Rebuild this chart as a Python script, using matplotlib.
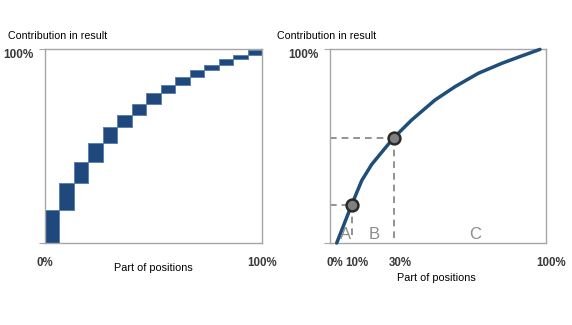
import matplotlib
matplotlib.use('Agg')
import matplotlib.pyplot as plt
import matplotlib.transforms as mtransforms
import numpy as np

plt.rcParams['font.family'] = ['Liberation Sans', 'DejaVu Sans']

# cumulative contribution after each of the 15 position groups (left chart)
cum_share = [0.0, 0.17, 0.308, 0.419, 0.514, 0.596, 0.661, 0.718, 0.771,
             0.814, 0.856, 0.892, 0.918, 0.948, 0.969, 0.995]

# ABC curve (right chart)
curve_x = [0.031, 0.100, 0.147, 0.193, 0.293, 0.378, 0.486, 0.579, 0.687,
           0.795, 0.887, 0.972]
curve_y = [0.0, 0.196, 0.322, 0.405, 0.540, 0.634, 0.737, 0.806, 0.875,
           0.926, 0.964, 0.998]
cut_x = [0.103, 0.297]
cut_y = [0.196, 0.540]
zone_labels = ['A', 'B', 'C']
zone_x = [0.073, 0.204, 0.671]

left_xticks = [0, 1]
left_xlabels = ['0%', '100%']
right_xticks = [0, 0.1, 0.3, 1]
right_xlabels = ['0%', '10%', '30%', '100%']

title = 'Contribution in result'
xlabel = 'Part of positions'

bar_color = '#1f497d'
line_color = '#1f4e79'
spine_color = '#a6a6a6'
tick_color = '#3a3a3a'

fig = plt.figure(figsize=(5.72, 3.25), dpi=100)
ax1 = fig.add_axes([45/572, 82/325, 217/572, 194/325])
ax2 = fig.add_axes([330/572, 82/325, 216/572, 194/325])


def style_axes(ax, xticks, xlabels, xshift):
    ax.set_xlim(0, 1)
    ax.set_ylim(0, 1)
    for s in ax.spines.values():
        s.set_color(spine_color)
        s.set_linewidth(1.0)
    ax.set_xticks(xticks)
    ax.set_xticklabels(xlabels)
    ax.set_xticks([0], minor=True)
    ax.tick_params(axis='x', which='major', length=0, pad=10,
                   labelsize=8.3, labelcolor=tick_color)
    ax.tick_params(axis='x', which='minor', length=4, color=spine_color)
    ax.set_yticks([0, 1])
    ax.set_yticklabels(['', '100%'])
    ax.tick_params(axis='y', length=4, color=spine_color, pad=4,
                   labelsize=8.5, labelcolor=tick_color)
    for lab in ax.get_xticklabels() + ax.get_yticklabels():
        lab.set_fontweight('bold')
    off_x = mtransforms.ScaledTranslation(xshift/100, 0, fig.dpi_scale_trans)
    for lab in ax.get_xticklabels():
        lab.set_transform(lab.get_transform() + off_x)
    off_y = mtransforms.ScaledTranslation(0, -5/100, fig.dpi_scale_trans)
    for lab in ax.get_yticklabels():
        lab.set_transform(lab.get_transform() + off_y)


# left: waterfall of contributions
n = len(cum_share) - 1
lefts = np.arange(n) / n
ax1.bar(lefts, np.diff(cum_share), bottom=cum_share[:-1], width=1/n,
        align='edge', color=bar_color, edgecolor='#5b80b2', linewidth=0.7)
style_axes(ax1, left_xticks, left_xlabels, 0)

# right: ABC curve
for x, y in zip(cut_x, cut_y):
    ax2.plot([0, x], [y, y], color='#808080', lw=1.2, ls=(0, (4, 3)))
    ax2.plot([x, x], [y, 0.02], color='#808080', lw=1.2, ls=(0, (4, 3)))
ax2.plot(curve_x, curve_y, color=line_color, lw=2.5, solid_capstyle='round',
         solid_joinstyle='round', clip_on=False, zorder=3)
ax2.plot(cut_x, cut_y, 'o', ms=8.5, mfc='#808080', mec='#2a2a2a', mew=1.8,
         zorder=4)
for lab, x in zip(zone_labels, zone_x):
    ax2.text(x, 0.045, lab, ha='center', va='center', fontsize=12,
             color='#8c8c8c', fontweight='medium')
style_axes(ax2, right_xticks, right_xlabels, 5)

fig.text(8/572, 1 - 36/325, title, fontsize=7.7, va='center', ha='left')
fig.text(277/572, 1 - 36/325, title, fontsize=7.7, va='center', ha='left')
fig.text(153.5/572, 1 - 268/325, xlabel, fontsize=7.8, va='center', ha='center')
fig.text(436/572, 1 - 278/325, xlabel, fontsize=7.8, va='center', ha='center')

fig.savefig('out.png', dpi=100)
